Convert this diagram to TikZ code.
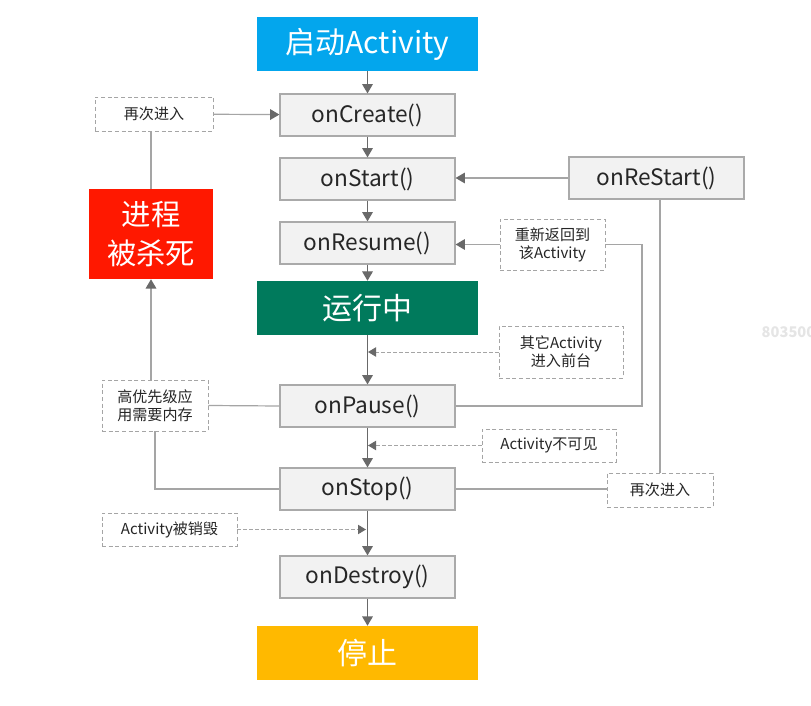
\documentclass[tikz,border=0pt]{standalone}
\usepackage{fontspec}
\setmainfont{Noto Sans CJK SC}
\usetikzlibrary{arrows.meta}
\definecolor{cblue}{RGB}{3,166,237}
\definecolor{cgreen}{RGB}{0,122,92}
\definecolor{cred}{RGB}{255,24,0}
\definecolor{cyellow}{RGB}{255,185,0}
\definecolor{boxfill}{RGB}{242,242,242}
\definecolor{boxline}{RGB}{170,170,170}
\definecolor{arrcol}{RGB}{105,105,105}
\definecolor{linecol}{RGB}{165,165,165}
\definecolor{dashcol}{RGB}{165,165,165}
\tikzset{
  big/.style={draw=none, minimum width=165.75pt, minimum height=40.5pt, inner sep=0pt, text=white, font=\fontsize{22.5}{25}\selectfont},
  stepbox/.style={draw=boxline, line width=0.9pt, fill=boxfill, minimum width=131.25pt, minimum height=31.5pt, inner sep=0pt, text=black!85, font=\fontsize{17}{20}\selectfont},
  note/.style={draw=dashcol, dashed, dash pattern=on 3pt off 2pt, line width=0.7pt, fill=white, inner sep=0pt, align=center, text=black!85, font=\fontsize{11.3}{13.5}\selectfont},
  arr/.style={draw=linecol, line width=0.9pt, -{Triangle[width=8pt,length=7pt,fill=arrcol,color=arrcol]}},
  varr/.style={draw=arrcol, line width=0.9pt, -{Triangle[width=8pt,length=7pt]}},
  plain/.style={draw=linecol, line width=0.9pt},
  darr/.style={draw=dashcol, line width=0.7pt, dash pattern=on 2.5pt off 2pt, -{Triangle[width=7pt,length=6pt,fill=arrcol,color=arrcol]}},
}
\begin{document}
\begin{tikzpicture}[x=0.75pt, y=-0.75pt]
\useasboundingbox[fill=white] (0,0) rectangle (811,706);
\node[text=black!10, font=\bfseries\fontsize{11}{13}\selectfont, anchor=west] (wm) at (757,332) {803500};

\node[big, fill=cblue] (start) at (367.5,44) {启动Activity};
\node[stepbox] (create) at (367.5,115) {onCreate()};
\node[stepbox] (startm) at (367.5,179) {onStart()};
\node[stepbox] (resume) at (367.5,243) {onResume()};
\node[big, fill=cgreen] (run) at (367.5,308) {运行中};
\node[stepbox] (pause) at (367.5,406) {onPause()};
\node[stepbox] (stop) at (367.5,489) {onStop()};
\node[stepbox] (destroy) at (367.5,577) {onDestroy()};
\node[big, fill=cyellow] (halt) at (367.5,653) {停止};
\node[stepbox] (restart) at (656.5,178) {onReStart()};
\node[big, fill=cred, minimum width=93pt, minimum height=67.5pt, align=center, font=\fontsize{22}{29}\selectfont] (killed) at (151,234) {进程\\被杀死};

\node[note, minimum width=88.5pt, minimum height=25.5pt] (again1) at (154,114) {再次进入};
\node[note, minimum width=78.75pt, minimum height=38.25pt] (ret) at (552.5,244.5) {重新返回到\\该Activity};
\node[note, minimum width=93pt, minimum height=39pt] (other) at (561,352) {其它Activity\\进入前台};
\node[note, minimum width=79.5pt, minimum height=38.25pt] (hp) at (155,405.5) {高优先级应\\用需要内存};
\node[note, minimum width=100.5pt, minimum height=24.75pt] (invis) at (549,445.5) {Activity不可见};
\node[note, minimum width=79.5pt, minimum height=25.5pt] (again2) at (660,490) {再次进入};
\node[note, minimum width=101.25pt, minimum height=24.75pt] (destroyed) at (169.5,529.5) {Activity被销毁};

\coordinate (p1) at (368,352);
\coordinate (p2) at (368,445.5);
\coordinate (p3) at (366,529.5);
\coordinate (c1) at (642,406);

\draw[varr] (start) -- (create);
\draw[varr] (create) -- (startm);
\draw[varr] (startm) -- (resume);
\draw[varr] (resume) -- (run);
\draw[varr] (run) -- (pause);
\draw[varr] (pause) -- (stop);
\draw[varr] (stop) -- (destroy);
\draw[varr] (destroy) -- (halt);

\draw[arr] (again1) -- (create);
\draw[plain] (killed.north) -- (killed.north |- again1.south);
\draw[arr] (killed.south |- hp.north) -- (killed.south);
\draw[plain] (pause.west) -- (hp.east);
\draw[plain] (stop.west) -| (hp.south);

\draw[arr] (restart) -- (startm.east |- restart.west);
\draw[arr] (ret) -- (resume.east |- ret.west);
\draw[plain] (pause.east) -- (c1) |- (ret.east);
\draw[plain] (stop.east) -- (again2.west |- stop.east);
\draw[plain] (again2.north) -- (again2.north |- restart.south);

\draw[darr] (other.west) -- (p1);
\draw[darr] (invis.west) -- (p2);
\draw[darr] (destroyed.east) -- (p3);
\end{tikzpicture}
\end{document}
